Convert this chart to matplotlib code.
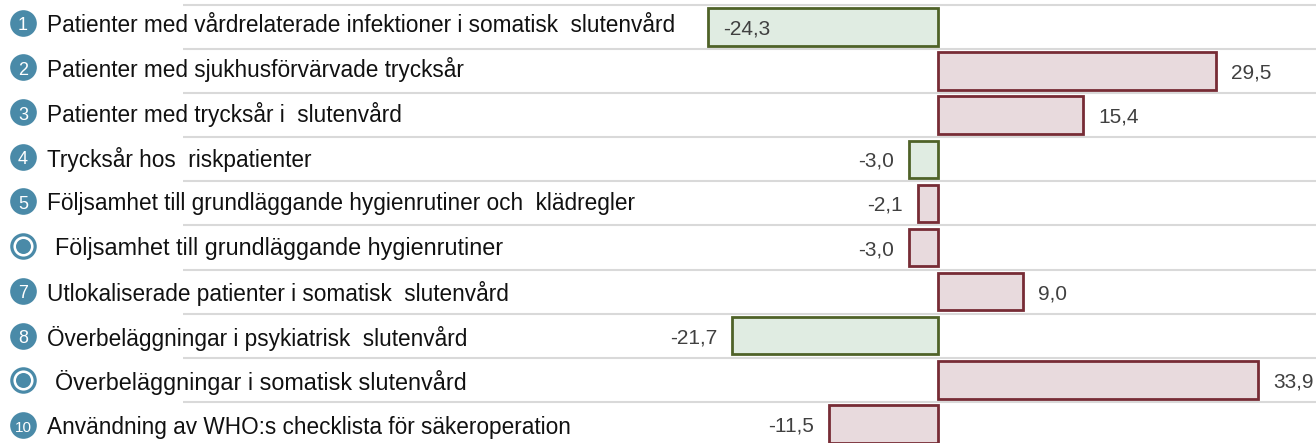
import matplotlib
matplotlib.use("Agg")
import matplotlib.pyplot as plt
from matplotlib.font_manager import findfont, FontProperties

categories = [
    "Patienter med vårdrelaterade infektioner i somatisk  slutenvård",
    "Patienter med sjukhusförvärvade trycksår",
    "Patienter med trycksår i  slutenvård",
    "Trycksår hos  riskpatienter",
    "Följsamhet till grundläggande hygienrutiner och  klädregler",
    "Följsamhet till grundläggande hygienrutiner",
    "Utlokaliserade patienter i somatisk  slutenvård",
    "Överbeläggningar i psykiatrisk  slutenvård",
    "Överbeläggningar i somatisk slutenvård",
    "Användning av WHO:s checklista för säkeroperation",
]
values = [-24.3, 29.5, 15.4, -3.0, -2.1, -3.0, 9.0, -21.7, 33.9, -11.5]
status = ["good", "bad", "bad", "good", "bad", "bad", "bad", "good", "bad", "bad"]
badges = ["1", "2", "3", "4", "5", "", "7", "8", "", "10"]
label_inside = [True, False, False, False, False, False, False, False, False, False]

W, H, DPI = 1316, 443, 100
ZERO_PX, PX_PER_UNIT = 937.5, 9.45
ROW0_PX, ROW_PX = 27.0, 44.1

def px2x(px):
    return (px - ZERO_PX) / PX_PER_UNIT

def py2y(py):
    return (py - ROW0_PX) / ROW_PX

edge = {"good": "#4f6228", "bad": "#772c35"}
fill = {"good": "#e0ece2", "bad": "#e8dadd"}
badge_col = "#4a8aa8"

try:
    findfont(FontProperties(family="Liberation Sans Narrow"), fallback_to_default=False)
    badge_family = "Liberation Sans Narrow"
except Exception:
    badge_family = "Liberation Sans"

fig = plt.figure(figsize=(W / DPI, H / DPI), dpi=DPI)
ax = fig.add_axes([0, 0, 1, 1])
ax.set_xlim(px2x(0), px2x(W))
ax.set_ylim(py2y(H), py2y(0))
ax.axis("off")

n = len(categories)
ys = list(range(n))

for i in range(n):
    ax.plot([px2x(183), px2x(W)], [i - 0.5, i - 0.5], color="#d9d9d9", lw=1.5,
            solid_capstyle="butt", zorder=1)

ax.barh(ys, values, height=0.85, left=0,
        color=[fill[s] for s in status],
        edgecolor=[edge[s] for s in status],
        linewidth=2.0, zorder=2)

VFS = 15
gap = 15 / PX_PER_UNIT
for i, v in enumerate(values):
    txt = f"{v:.1f}".replace(".", ",")
    kw = dict(va="center_baseline", fontsize=VFS, color="#404040",
              family="Liberation Sans", zorder=3)
    if label_inside[i]:
        ax.text(v + 15 / PX_PER_UNIT, i, txt, ha="left", **kw)
    elif v >= 0:
        ax.text(v + gap, i, txt, ha="left", **kw)
    else:
        ax.text(v - gap, i, txt, ha="right", **kw)

for i, cat in enumerate(categories):
    ly = i * 1.014 - 0.1
    ring = badges[i] == ""
    if ring:
        ax.plot([px2x(23)], [ly], marker="o", ms=16.8, mfc="white", mec=badge_col,
                mew=2.3, zorder=4, clip_on=False)
        ax.plot([px2x(23)], [ly], marker="o", ms=10.8, mfc=badge_col, mew=0,
                zorder=5, clip_on=False)
        ax.text(px2x(55), ly, cat, ha="left", va="center_baseline", fontsize=16.8,
                color="#111111", family="Liberation Sans", zorder=4)
    else:
        ax.plot([px2x(23)], [ly], marker="o", ms=19.2, mfc=badge_col, mew=0,
                zorder=4, clip_on=False)
        ax.text(px2x(23), ly + 0.025, badges[i], ha="center", va="center_baseline",
                fontsize=13 if len(badges[i]) == 1 else 11, color="white",
                family=badge_family, zorder=5)
        ax.text(px2x(47), ly, cat, ha="left", va="center_baseline", fontsize=16.3,
                color="#111111", family="Liberation Sans", zorder=4)

fig.savefig("out.png", dpi=DPI)
